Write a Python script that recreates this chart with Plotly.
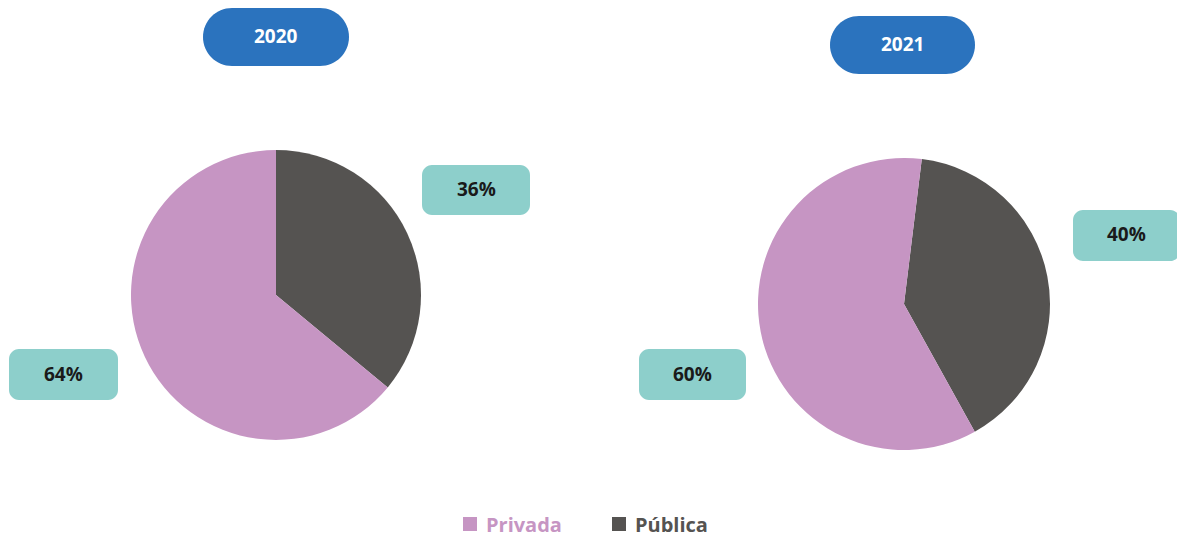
import plotly.graph_objects as go

W, H = 1177, 537

years = ["2020", "2021"]
labels = ["Pública", "Privada"]
values_2020 = [36, 64]
values_2021 = [40, 60]
colors = ["#555351", "#C695C3"]

fig = go.Figure()

def px_dom(x0, x1, y0, y1):
    return dict(x=[x0 / W, x1 / W], y=[1 - y1 / H, 1 - y0 / H])

fig.add_trace(go.Pie(labels=labels, values=values_2020, sort=False, direction="clockwise",
                     rotation=0, marker=dict(colors=colors, line=dict(width=0)),
                     textinfo="none", hoverinfo="label+percent", showlegend=False,
                     domain=px_dom(131, 421, 150, 440)))
fig.add_trace(go.Pie(labels=labels, values=values_2021, sort=False, direction="clockwise",
                     rotation=7, marker=dict(colors=colors, line=dict(width=0)),
                     textinfo="none", hoverinfo="label+percent", showlegend=False,
                     domain=px_dom(758, 1050, 158, 450)))

K = 0.5523

def rrect(x0, y0, x1, y1, r):
    def P(x, y):
        return f"{x / W:.5f},{1 - y / H:.5f}"
    k = r * K
    return (f"M {P(x0 + r, y0)} L {P(x1 - r, y0)} "
            f"C {P(x1 - r + k, y0)} {P(x1, y0 + r - k)} {P(x1, y0 + r)} "
            f"L {P(x1, y1 - r)} "
            f"C {P(x1, y1 - r + k)} {P(x1 - r + k, y1)} {P(x1 - r, y1)} "
            f"L {P(x0 + r, y1)} "
            f"C {P(x0 + r - k, y1)} {P(x0, y1 - r + k)} {P(x0, y1 - r)} "
            f"L {P(x0, y0 + r)} "
            f"C {P(x0, y0 + r - k)} {P(x0 + r - k, y0)} {P(x0 + r, y0)} Z")

shapes = []
annotations = []
FONT = "Open Sans"

def text_at(cx, cy, txt, size, color, xanchor="center"):
    annotations.append(dict(x=cx / W, y=1 - cy / H, xref="paper", yref="paper",
                            xanchor=xanchor, yanchor="middle", text=txt, showarrow=False,
                            font=dict(family=FONT, size=size, color=color)))

# year pills
pills = [(203, 8, 349, 66), (830, 16, 975, 74)]
for (x0, y0, x1, y1), yr in zip(pills, years):
    shapes.append(dict(type="path", xref="paper", yref="paper", path=rrect(x0, y0, x1, y1, (y1 - y0) / 2),
                       fillcolor="#2B73BE", line=dict(width=0)))
    text_at((x0 + x1) / 2, (y0 + y1) / 2 - 1, f"<b>{yr}</b>", 19, "white")

# value boxes: (box, value)
boxes = [((422, 165, 530, 215), values_2020[0]), ((9, 349, 118, 400), values_2020[1]),
         ((1073, 210, 1180, 261), values_2021[0]), ((639, 349, 746, 400), values_2021[1])]
for (x0, y0, x1, y1), v in boxes:
    shapes.append(dict(type="path", xref="paper", yref="paper", path=rrect(x0, y0, x1, y1, 10),
                       fillcolor="#8DCFCB", line=dict(width=0)))
    cx = (x0 + min(x1, W + 2)) / 2
    text_at(cx, (y0 + y1) / 2 - 1, f"<b>{v}%</b>", 19, "#1a1a1a")

# legend
legend_items = [("Privada", colors[1], 463), ("Pública", colors[0], 612)]
for name, col, x in legend_items:
    shapes.append(dict(type="rect", xref="paper", yref="paper",
                       x0=x / W, x1=(x + 14) / W, y0=1 - 531 / H, y1=1 - 517 / H,
                       fillcolor=col, line=dict(width=0)))
    text_at(x + 21, 524, f"<b>{name}</b>", 20, col, xanchor="left")

fig.update_layout(width=W, height=H, margin=dict(l=0, r=0, t=0, b=0),
                  paper_bgcolor="white", plot_bgcolor="white",
                  shapes=shapes, annotations=annotations)

fig.write_html("out.html", config={"displayModeBar": False},
               post_script="document.body.style.margin='0px';")
